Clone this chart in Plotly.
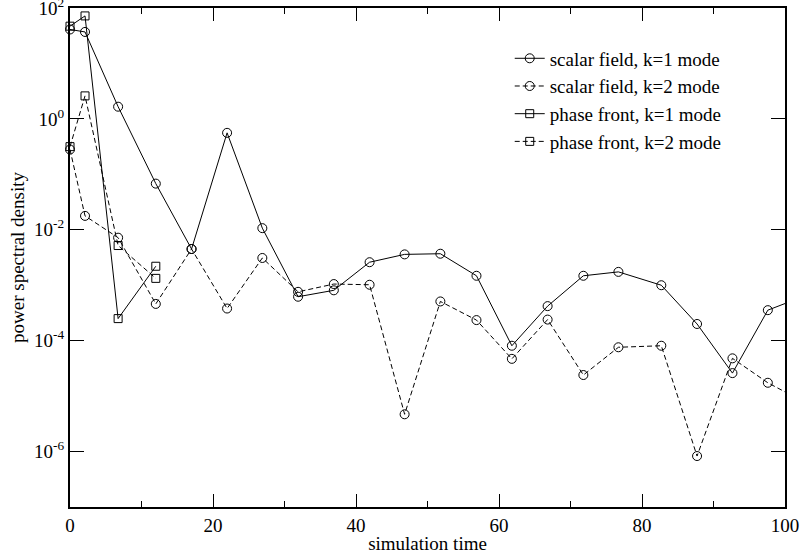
import plotly.graph_objects as go

# simulation times
t_scalar = [0, 2.1, 6.73, 12.0, 17.0, 21.97, 26.9, 31.9, 36.9, 41.9, 46.8, 51.8,
            56.85, 61.8, 66.8, 71.8, 76.7, 82.7, 87.7, 92.65, 97.6, 102.6]
scalar_k1 = [41, 37, 1.66, 0.068, 4.5e-3, 0.56, 0.0107, 6.2e-4, 8.1e-4, 2.6e-3, 3.6e-3, 3.7e-3,
             1.48e-3, 8.1e-5, 4.2e-4, 1.48e-3, 1.74e-3, 1.0e-3, 2.0e-4, 2.6e-5, 3.55e-4, 6.3e-4]
scalar_k2 = [0.28, 0.0178, 7.2e-3, 4.6e-4, 4.5e-3, 3.8e-4, 3.1e-3, 7.6e-4, 1.05e-3, 1.02e-3, 4.7e-6, 5.1e-4,
             2.35e-4, 4.7e-5, 2.4e-4, 2.4e-5, 7.6e-5, 8.1e-5, 8.3e-7, 4.8e-5, 1.74e-5, 7.9e-6]

t_phase = [0, 2.1, 6.73, 12.0]
phase_k1 = [47, 72, 2.5e-4, 2.2e-3]
phase_k2 = [0.316, 2.6, 5.2e-3, 1.33e-3]

y_tickvals = [1e2, 1, 1e-2, 1e-4, 1e-6]
y_ticktext = ["10<sup>2</sup>", "10<sup>0</sup>", "10<sup>-2</sup>", "10<sup>-4</sup>", "10<sup>-6</sup>"]
x_tickvals = [0, 20, 40, 60, 80, 100]

FONT = "Liberation Serif"
DASH = "5px,3px"

fig = go.Figure()

def add(name, x, y, symbol, dash):
    fig.add_trace(go.Scatter(
        x=x, y=y, name=name, mode="lines+markers",
        line=dict(color="black", width=1, dash=dash),
        marker=dict(symbol=symbol, size=9 if "circle" in symbol else 8,
                    color="black", line=dict(width=1, color="black")),
        cliponaxis=False,
    ))

add("scalar field, k=1 mode", t_scalar, scalar_k1, "circle-open", "solid")
add("scalar field, k=2 mode", t_scalar, scalar_k2, "circle-open", DASH)
add("phase front, k=1 mode", t_phase, phase_k1, "square-open", "solid")
add("phase front, k=2 mode", t_phase, phase_k2, "square-open", DASH)

fig.update_layout(
    width=800, height=558,
    margin=dict(l=70, r=15, t=8, b=51, autoexpand=False),
    paper_bgcolor="white", plot_bgcolor="white",
    font=dict(family=FONT, size=19, color="black"),
    showlegend=True,
    legend=dict(x=0.615, y=0.937, xanchor="left", yanchor="top",
                bgcolor="rgba(0,0,0,0)", font=dict(size=19), itemwidth=30,
                tracegroupgap=0),
)

fig.update_xaxes(
    range=[0, 100], showgrid=False, zeroline=False, automargin=False,
    showline=True, linecolor="black", linewidth=2, mirror="ticks",
    ticks="inside", ticklen=13, tickwidth=1, tickcolor="black",
    tickvals=x_tickvals, ticklabeloverflow="allow",
    minor=dict(ticks="inside", ticklen=6, tickwidth=1, tickcolor="black", dtick=10, showgrid=False),
    tickfont=dict(size=19, family=FONT),
    title=dict(text="simulation time", font=dict(size=19, family=FONT), standoff=2),
)
fig.update_yaxes(
    type="log", range=[-7, 2], showgrid=False, zeroline=False, automargin=False,
    showline=True, linecolor="black", linewidth=2, mirror="ticks",
    ticks="inside", ticklen=14, tickwidth=1, tickcolor="black",
    tickvals=y_tickvals, ticktext=y_ticktext, ticklabeloverflow="allow",
    tickfont=dict(size=19, family=FONT),
    title=dict(text="power spectral density", font=dict(size=19, family=FONT), standoff=4),
)

fig.write_html("out.html")
